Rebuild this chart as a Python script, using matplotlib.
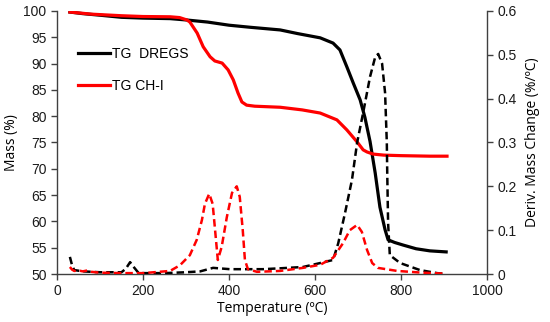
import matplotlib
matplotlib.use("Agg")
import matplotlib.pyplot as plt

# ---- data ----
t_tg_dregs = [30, 60, 100, 150, 200, 263, 300, 350, 400, 450, 519, 560, 612, 642, 658, 674, 689, 705, 716, 728, 740, 751, 763, 770, 785, 805, 835, 867, 905]
tg_dregs   = [99.8, 99.5, 99.2, 98.8, 98.65, 98.55, 98.3, 97.9, 97.3, 96.9, 96.4, 95.7, 94.9, 93.9, 92.6, 89.4, 86.3, 83.1, 79.8, 75.2, 69.2, 62.7, 58.4, 56.5, 56.0, 55.5, 54.8, 54.4, 54.2]

t_tg_ch = [30, 80, 150, 200, 263, 285, 302, 309, 326, 340, 356, 367, 384, 398, 410, 421, 430, 441, 460, 519, 570, 612, 651, 674, 698, 712, 721, 735, 760, 800, 867, 907]
tg_ch   = [99.8, 99.4, 99.1, 98.95, 98.9, 98.75, 98.3, 97.9, 95.8, 93.2, 91.3, 90.5, 90.1, 88.8, 86.9, 84.4, 82.7, 82.1, 81.9, 81.7, 81.2, 80.6, 79.3, 77.4, 75.1, 73.6, 73.2, 72.8, 72.6, 72.5, 72.4, 72.4]

t_dtg_dregs = [30, 35, 40, 60, 100, 150, 160, 170, 180, 190, 250, 300, 333, 363, 402, 479, 519, 572, 612, 642, 654, 670, 686, 698, 712, 728, 740, 747, 756, 763, 767, 768, 770, 774, 798, 844, 884, 905]
dtg_dregs   = [0.039, 0.02, 0.009, 0.006, 0.004, 0.004, 0.012, 0.027, 0.014, 0.002, 0.002, 0.004, 0.006, 0.014, 0.011, 0.011, 0.013, 0.016, 0.025, 0.032, 0.07, 0.14, 0.215, 0.30, 0.368, 0.45, 0.495, 0.502, 0.48, 0.413, 0.30, 0.23, 0.116, 0.043, 0.025, 0.009, 0.002, 0.0]

t_dtg_ch = [30, 35, 40, 50, 60, 70, 80, 100, 150, 200, 263, 286, 309, 325, 337, 344, 354, 362, 367, 374, 383, 395, 407, 418, 425, 432, 437, 444, 465, 519, 572, 612, 642, 665, 681, 698, 709, 721, 733, 746, 791, 850, 900]
dtg_ch   = [0.016, 0.010, 0.007, 0.008, 0.006, 0.008, 0.005, 0.003, 0.002, 0.002, 0.007, 0.02, 0.043, 0.078, 0.123, 0.16, 0.183, 0.16, 0.107, 0.032, 0.062, 0.13, 0.185, 0.20, 0.176, 0.10, 0.032, 0.011, 0.005, 0.007, 0.014, 0.021, 0.037, 0.07, 0.10, 0.112, 0.096, 0.055, 0.025, 0.014, 0.007, 0.003, 0.001]

legend_labels = ["TG  DREGS", "TG CH-I"]

# ---- figure ----
fig = plt.figure(figsize=(5.5, 3.22), dpi=100)
ax = fig.add_axes([57/550, 48/322, 430/550, 263/322])
ax2 = ax.twinx()

tickfam = ["Liberation Sans", "DejaVu Sans"]
labfont = dict(family=["Open Sans", "DejaVu Sans"], size=10)

l1, = ax.plot(t_tg_dregs, tg_dregs, color="black", lw=2.3, solid_joinstyle="round")
l2, = ax.plot(t_tg_ch, tg_ch, color="#ff0000", lw=2.3, solid_joinstyle="round")
ax2.plot(t_dtg_dregs, dtg_dregs, color="black", lw=1.8, dashes=(3.0, 1.6), dash_joinstyle="round")
ax2.plot(t_dtg_ch, dtg_ch, color="#ff0000", lw=1.8, dashes=(3.0, 1.6), dash_joinstyle="round")

ax.set_xlim(0, 1000)
ax.set_ylim(50, 100)
ax2.set_ylim(0, 0.6)
ax.set_xticks([0, 200, 400, 600, 800, 1000])
ax.set_yticks(range(50, 101, 5))
ax2.set_yticks([0, 0.1, 0.2, 0.3, 0.4, 0.5, 0.6])
ax2.set_yticklabels(["0", "0.1", "0.2", "0.3", "0.4", "0.5", "0.6"])

spine_col = "#404040"
for a in (ax, ax2):
    a.spines["top"].set_visible(False)
    for s in ("left", "right", "bottom"):
        a.spines[s].set_color(spine_col)
        a.spines[s].set_linewidth(1.0)
    a.tick_params(colors=spine_col, length=4, width=1.0, labelcolor="#1a1a1a")
ax.spines["right"].set_visible(False)
ax2.spines["left"].set_visible(False)
ax2.spines["bottom"].set_visible(False)

for lab in ax.get_xticklabels() + ax.get_yticklabels() + ax2.get_yticklabels():
    lab.set_fontfamily(tickfam)
    lab.set_fontsize(10)

ax.set_xlabel("Temperature (ºC)", labelpad=2, **labfont)
ax.set_ylabel("Mass (%)", labelpad=3, **labfont)
ax2.set_ylabel("Deriv. Mass Change (%/ºC)", labelpad=6, **labfont)

leg = ax.legend([l1, l2], legend_labels, loc="upper left", bbox_to_anchor=(0.02, 0.91),
                frameon=False, handlelength=2.3, handletextpad=0.15, labelspacing=1.3,
                prop=dict(family=tickfam, size=10))

fig.savefig("out.png", dpi=100)
